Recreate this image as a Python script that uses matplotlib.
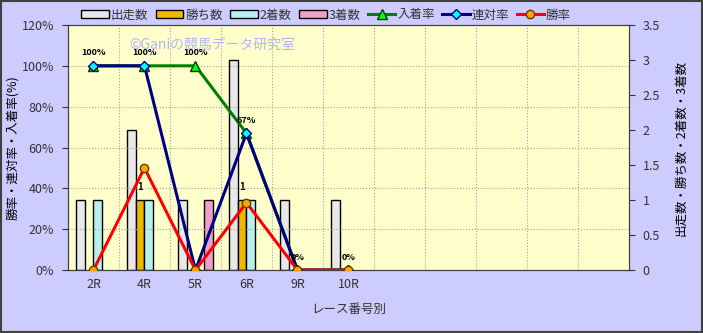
import matplotlib
matplotlib.use("Agg")
import matplotlib.pyplot as plt
import numpy as np
from matplotlib.patches import Rectangle, Patch

plt.rcParams['font.family'] = ['Noto Sans CJK JP', 'DejaVu Sans']

categories = ["2R", "4R", "5R", "6R", "9R", "10R", "", "", "", "", ""]
runs = [1, 2, 1, 3, 1, 1]          # 出走数
wins = [0, 1, 0, 1, 0, 0]          # 勝ち数
seconds = [1, 1, 0, 1, 0, 0]       # 2着数
thirds = [0, 0, 1, 0, 0, 0]        # 3着数
place_rate = [100, 100, 100, 67, 0, 0]   # 入着率
quinella_rate = [100, 100, 0, 67, 0, 0]  # 連対率
win_rate = [0, 50, 0, 33, 0, 0]          # 勝率
place_labels = ["100%", "100%", "100%", "67%", "0%", "0%"]

fig = plt.figure(figsize=(7.03, 3.33), dpi=100)
fig.patch.set_facecolor('#ccccff')
fig.patches.append(Rectangle((0.001, 0.002), 0.997, 0.995, transform=fig.transFigure,
                             fill=False, edgecolor='#404040', linewidth=1.5))

ax = fig.add_axes([0.0967, 0.189, 0.798, 0.736])
ax2 = ax.twinx()
ax.set_facecolor('#ffffcc')
ax2.patch.set_visible(False)

n = len(categories)
x = np.arange(n)
xd = np.arange(len(runs))
bw = 0.175
bar_specs = [
    (runs, '#e8e8e8', '出走数'),
    (wins, '#f0b800', '勝ち数'),
    (seconds, '#b8f0f0', '2着数'),
    (thirds, '#f0a0c8', '3着数'),
]
handles = []
for i, (vals, col, lab) in enumerate(bar_specs):
    off = (i - 1.5) * bw
    vals_arr = np.array(vals, dtype=float)
    b = ax.bar(xd + off, vals_arr, width=bw, color=col, edgecolor='black', linewidth=1.0,
               zorder=2)
    for rect, v in zip(b, vals_arr):
        if v == 0:
            rect.set_visible(False)
    handles.append(Patch(facecolor=col, edgecolor='black', linewidth=1.0, label=lab))

for xi, v in zip(xd, wins):
    if v > 0:
        ax.text(xi - 0.5 * bw, v + 0.12, str(v), ha='center', va='bottom', fontsize=7,
                fontweight='bold', color='black', zorder=5)

ax.set_xlim(-0.5, n - 0.5)
ax.set_ylim(0, 3.5)
ax.yaxis.tick_right()
ax.yaxis.set_label_position('right')
ax.set_yticks(np.arange(0, 3.51, 0.5))
ax.set_yticklabels(['0', '0.5', '1', '1.5', '2', '2.5', '3', '3.5'])
ax.set_xticks(x)
ax.set_xticklabels(categories)
ax.set_xticks(np.arange(0.5, n - 0.5, 1), minor=True)
ax.tick_params(axis='x', which='both', length=0, labelsize=9, colors='#333333', pad=6)
ax.tick_params(axis='y', length=4, labelsize=9, colors='#333333', pad=6)
ax.grid(which='minor', axis='x', color='#a0a0a0', linestyle=':', linewidth=0.8, zorder=0)
ax.set_axisbelow(True)
ax.set_ylabel('出走数・勝ち数・2着数・3着数', fontsize=9, rotation=90, labelpad=10)
ax.set_xlabel('レース番号別', fontsize=9, color='#333333', labelpad=8)
for s in ax.spines.values():
    s.set_color('#404040')

ax2.yaxis.tick_left()
ax2.yaxis.set_label_position('left')
ax2.set_ylim(0, 120)
ax2.set_yticks(np.arange(0, 121, 20))
ax2.set_yticklabels([f'{v}%' for v in range(0, 121, 20)])
ax2.tick_params(axis='y', length=4, labelsize=9, colors='#333333', pad=6)
ax2.grid(axis='y', color='#a0a0a0', linestyle=':', linewidth=0.8)
ax2.set_ylabel('勝率・連対率・入着率(%)', fontsize=9)
ax2.yaxis.set_label_coords(-0.088, 0.5)
for s in ax2.spines.values():
    s.set_color('#404040')

l1, = ax2.plot(xd, place_rate, color='#008000', linewidth=2.2, marker='^', markersize=7,
               markerfacecolor='#00ff00', markeredgecolor='#004000', label='入着率', zorder=3)
l2, = ax2.plot(xd, quinella_rate, color='#000080', linewidth=2.2, marker='D', markersize=5,
               markerfacecolor='#00ffff', markeredgecolor='#000080', label='連対率', zorder=4)
l3, = ax2.plot(xd, win_rate, color='#ff0000', linewidth=2.2, marker='o', markersize=6,
               markerfacecolor='#ffa500', markeredgecolor='#604000', label='勝率', zorder=5)

for xi, v, t in zip(xd, place_rate, place_labels):
    ax2.annotate(t, (xi, v), xytext=(0, 6), textcoords='offset points', ha='center',
                 va='bottom', fontsize=6.5, fontweight='bold', color='black', zorder=6)

ax2.text(0.11, 0.918, '©Ganiの競馬データ研究室', transform=ax2.transAxes, fontsize=10,
         color='#b0b4f8', ha='left', va='center', zorder=1)

fig.legend(handles + [l1, l2, l3], [h.get_label() for h in handles] + ['入着率', '連対率', '勝率'],
           loc='center', bbox_to_anchor=(0.464, 0.955), ncol=7, frameon=False, fontsize=9,
           handlelength=2.2, handleheight=0.5, columnspacing=0.6, handletextpad=0.15,
           labelcolor='#333333')

fig.savefig('out.png', dpi=100, facecolor=fig.get_facecolor())
